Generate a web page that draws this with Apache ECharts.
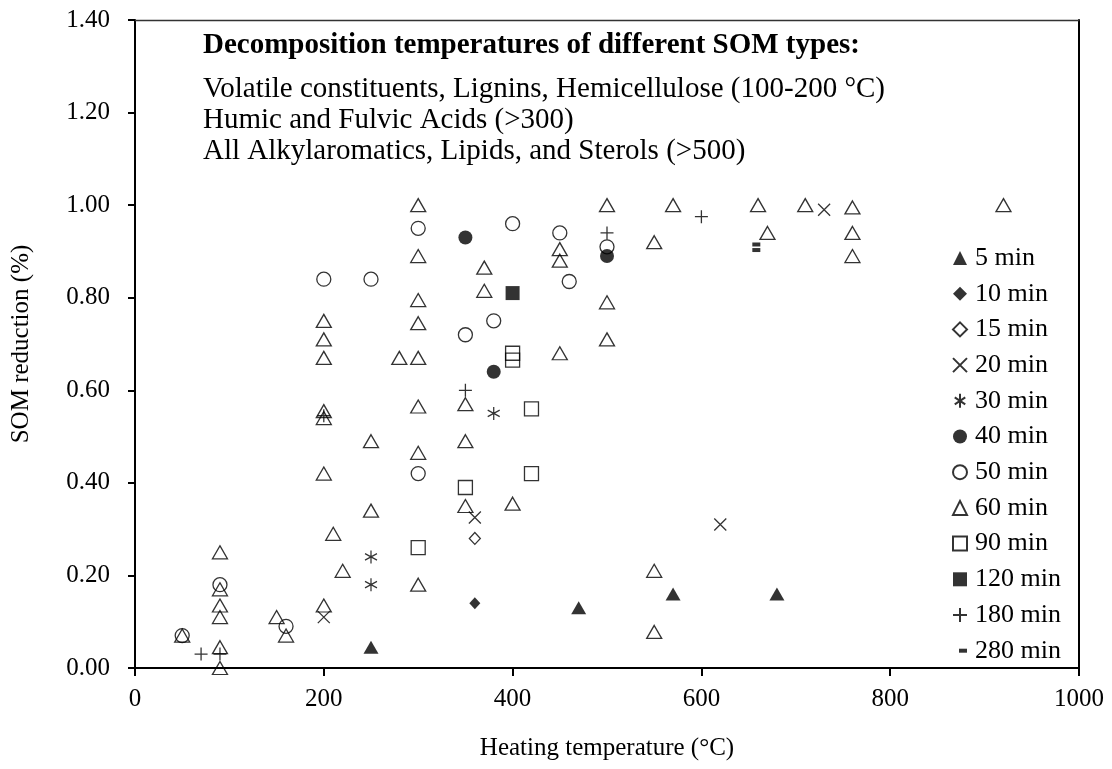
<!DOCTYPE html>
<html>
<head>
<meta charset="utf-8">
<script src="https://cdn.jsdelivr.net/npm/echarts@6/dist/echarts.min.js"></script>
<style>html,body{margin:0;padding:0;background:#fff}#c{width:1112px;height:769px}</style>
</head>
<body>
<div id="c"></div>
<script>
// Data: [heating temperature (°C), SOM reduction]
const min5 = [[250,0.045],[470,0.13],[570,0.16],[680,0.16]];
const min10 = [[360,0.14]];
const min15 = [[360,0.28]];
const min20 = [[200,0.11],[360,0.325],[620,0.31],[730,0.99]];
const min30 = [[250,0.24],[250,0.18],[380,0.55]];
const min40 = [[350,0.93],[380,0.64],[500,0.89]];
const min50 = [[50,0.07],[90,0.18],[160,0.09],[200,0.84],[250,0.84],[300,0.95],[300,0.42],[350,0.72],[380,0.75],[400,0.96],[450,0.94],[460,0.835],[500,0.91]];
const min60 = [[50,0.07],[90,0.25],[90,0.17],[90,0.135],[90,0.11],[90,0.045],[90,0.0],[150,0.11],[160,0.07],
  [200,0.75],[200,0.71],[200,0.67],[200,0.555],[200,0.54],[200,0.42],[200,0.135],[210,0.29],[220,0.21],
  [250,0.49],[250,0.34],[280,0.67],[300,1.0],[300,0.89],[300,0.795],[300,0.745],[300,0.67],[300,0.565],[300,0.465],[300,0.18],
  [350,0.57],[350,0.49],[350,0.35],[370,0.865],[370,0.815],[400,0.355],[450,0.905],[450,0.88],[450,0.68],
  [500,1.0],[500,0.79],[500,0.71],[550,0.92],[550,0.21],[550,0.078],[570,1.0],[660,1.0],[670,0.94],[710,1.0],
  [760,0.995],[760,0.94],[760,0.89],[920,1.0]];
const min90 = [[300,0.26],[350,0.39],[400,0.68],[400,0.665],[420,0.56],[420,0.42]];
const min120 = [[400,0.81]];
const min180 = [[70,0.03],[90,0.03],[200,0.545],[350,0.60],[500,0.94],[600,0.975]];
const min280 = [[655,0.915],[655,0.903]];

const seriesNames = ['5 min','10 min','15 min','20 min','30 min','40 min','50 min','60 min','90 min','120 min','180 min','280 min'];
const yTicks = [0,0.2,0.4,0.6,0.8,1.0,1.2,1.4];
const xTicks = [0,200,400,600,800,1000];
const annotationTitle = 'Decomposition temperatures of different SOM types:';
const annotationLines = ['Volatile constituents, Lignins, Hemicellulose (100-200 °C)','Humic and Fulvic Acids (>300)','All Alkylaromatics, Lipids, and Sterols (>500)'];

const FONT = '"Liberation Serif", "Times New Roman", serif';
const filled = {color:'#000', borderWidth:0};
const open = {color:'rgba(0,0,0,0)', borderColor:'#000', borderWidth:1.3};
const pathX = 'path://M0,0L10,10M10,0L0,10';
const pathAst = 'path://M5,0L5,12M0.5,3L9.5,9M9.5,3L0.5,9';
const pathPlus = 'path://M6,0L6,12M0,6L12,6';
const pathDash = 'path://M0,0L0,0M14,14L14,14M6,5L14,5L14,9L6,9Z';

function s(name, data, symbol, size, style){
  return {name, type:'scatter', data, symbol, symbolSize:size, itemStyle:style,
    emphasis:{disabled:true}, z:3};
}
const series = [
  s('5 min', min5, 'triangle', [15,13], filled),
  s('10 min', min10, 'diamond', [11,12], filled),
  s('15 min', min15, 'diamond', [11,12], open),
  s('20 min', min20, pathX, [12,12], open),
  s('30 min', min30, pathAst, [12,13], open),
  s('40 min', min40, 'circle', 14, filled),
  s('50 min', min50, 'circle', 14, open),
  s('60 min', min60, 'triangle', [15,13], open),
  s('90 min', min90, 'rect', 14, open),
  s('120 min', min120, 'rect', 14, filled),
  s('180 min', min180, pathPlus, 13, open),
  s('280 min', min280, pathDash, 14, filled)
];

const frameAxis = {type:'value', axisLabel:{show:false}, axisTick:{show:false}, splitLine:{show:false}};

const chart = echarts.init(document.getElementById('c'), null, {renderer:'canvas'});
chart.setOption({
  animation:false,
  backgroundColor:'#fff',
  textStyle:{fontFamily:FONT, color:'#000'},
  grid:{left:135, right:33, top:20, bottom:101},
  xAxis:[{type:'value', min:0, max:1000, interval:200,
    name:'Heating temperature (°C)', nameLocation:'middle', nameGap:68,
    nameTextStyle:{fontFamily:FONT, fontSize:25, color:'#000'},
    axisLine:{show:true, lineStyle:{color:'#000', width:2}},
    axisTick:{show:true, inside:false, length:8, lineStyle:{color:'#000', width:2}},
    axisLabel:{fontFamily:FONT, fontSize:25, color:'#000', margin:19,
      formatter:v=> xTicks.includes(v) ? String(v) : ''},
    splitLine:{show:false}},
    Object.assign({}, frameAxis, {position:'top', min:0, max:1000, axisLine:{show:true, onZero:false, lineStyle:{color:'#333', width:1.3}}})
  ],
  yAxis:[{type:'value', min:0, max:1.4, interval:0.2,
    name:'SOM reduction (%)', nameLocation:'middle', nameGap:101, nameRotate:90,
    nameTextStyle:{fontFamily:FONT, fontSize:25, color:'#000'},
    axisLine:{show:true, lineStyle:{color:'#000', width:2}},
    axisTick:{show:true, inside:false, length:7, lineStyle:{color:'#000', width:2}},
    axisLabel:{fontFamily:FONT, fontSize:25, color:'#000', margin:25,
      formatter:v=> yTicks.some(t=>Math.abs(t-v)<1e-9) ? v.toFixed(2) : ''},
    splitLine:{show:false}},
    Object.assign({}, frameAxis, {position:'right', min:0, max:1.4, axisLine:{show:true, onZero:false, lineStyle:{color:'#000', width:2}}})
  ],
  legend:{orient:'vertical', left:952, top:245, data:seriesNames, itemWidth:14, itemHeight:14, itemGap:9.7,
    textStyle:{fontFamily:FONT, fontSize:26, lineHeight:26, color:'#000', padding:[0,0,0,3]},
    selectedMode:false, padding:0},
  graphic:[
    {type:'text', left:203, top:31, z:10, style:{text:annotationTitle, font:'bold 29px '+FONT, fill:'#000'}},
    {type:'text', left:203, top:75, z:10, style:{text:annotationLines[0], font:'29px '+FONT, fill:'#000'}},
    {type:'text', left:203, top:106, z:10, style:{text:annotationLines[1], font:'29px '+FONT, fill:'#000'}},
    {type:'text', left:203, top:137, z:10, style:{text:annotationLines[2], font:'29px '+FONT, fill:'#000'}}
  ],
  series
});
</script>
</body>
</html>
